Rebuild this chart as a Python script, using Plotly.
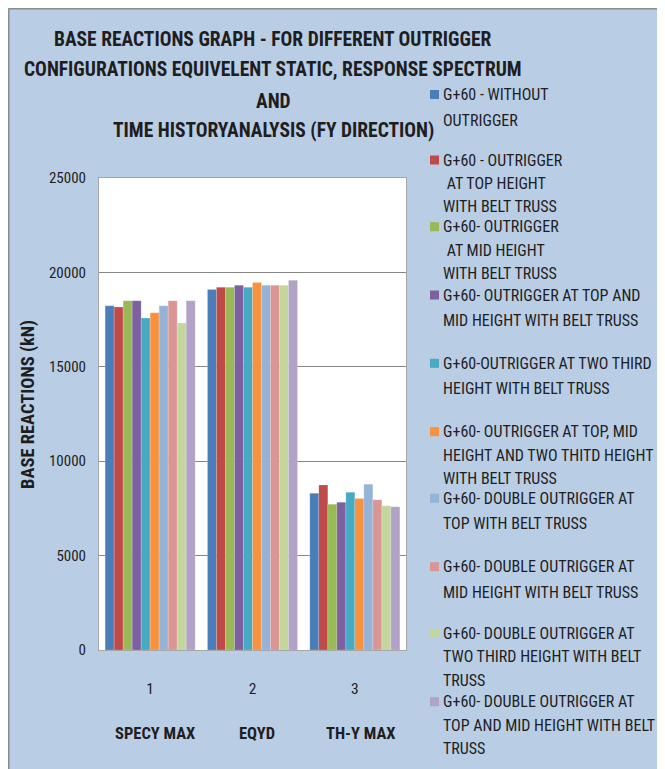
import plotly.graph_objects as go

categories = [1, 2, 3]
category_names = ["SPECY MAX", "EQYD", "TH-Y MAX"]

series_names = [
    ["G+60 - WITHOUT", "OUTRIGGER"],
    ["G+60 - OUTRIGGER", " AT TOP HEIGHT", "WITH BELT TRUSS"],
    ["G+60- OUTRIGGER", " AT MID HEIGHT", "WITH BELT TRUSS"],
    ["G+60- OUTRIGGER AT TOP AND", "MID HEIGHT WITH BELT TRUSS"],
    ["G+60-OUTRIGGER AT TWO THIRD", "HEIGHT WITH BELT TRUSS"],
    ["G+60- OUTRIGGER AT TOP, MID", "HEIGHT AND TWO THITD HEIGHT", "WITH BELT TRUSS"],
    ["G+60- DOUBLE OUTRIGGER AT", "TOP WITH BELT TRUSS"],
    ["G+60- DOUBLE OUTRIGGER AT", "MID HEIGHT WITH BELT TRUSS"],
    ["G+60- DOUBLE OUTRIGGER AT", "TWO THIRD HEIGHT WITH BELT", "TRUSS"],
    ["G+60- DOUBLE OUTRIGGER AT", "TOP AND MID HEIGHT WITH BELT", "TRUSS"],
]

without_outrigger = [18230, 19100, 8300]
top_belt = [18170, 19210, 8740]
mid_belt = [18500, 19210, 7720]
top_mid_belt = [18500, 19320, 7820]
two_third_belt = [17580, 19210, 8350]
top_mid_two_third_belt = [17860, 19470, 8030]
double_top = [18230, 19320, 8780]
double_mid = [18500, 19320, 7960]
double_two_third = [17320, 19320, 7640]
double_top_mid = [18500, 19580, 7590]

series_values = [without_outrigger, top_belt, mid_belt, top_mid_belt, two_third_belt,
                  top_mid_two_third_belt, double_top, double_mid, double_two_third, double_top_mid]

colors = ["#4A7EBB", "#BE4B48", "#98B954", "#7D60A0", "#46AAC5",
          "#F69240", "#95B3D7", "#D99694", "#C3D69B", "#B3A2C7"]

y_ticks = [0, 5000, 10000, 15000, 20000, 25000]

W, H = 680, 780
OFF = 8  # page body margin
# plot area in screenshot pixels
L, R, T, B = 99, 406, 178, 650
FONT = "Liberation Sans Narrow, Arial Narrow, Roboto Condensed, Liberation Sans, sans-serif"
TXT = "#1E1E1E"


def px(x):
    return (x - L) / (R - L)


def py(y):
    return (B - y) / (B - T)


fig = go.Figure()
for name, vals, col in zip(series_names, series_values, colors):
    fig.add_trace(go.Bar(
        x=categories, y=vals, name=" ".join(s.strip() for s in name),
        marker=dict(color=col, line=dict(color="rgba(255,255,255,0.35)", width=0.5)),
        showlegend=False,
    ))

annotations = []
shapes = []

# title
title_lines = ["BASE REACTIONS GRAPH - FOR DIFFERENT OUTRIGGER",
               "CONFIGURATIONS EQUIVELENT STATIC, RESPONSE SPECTRUM",
               "AND",
               "TIME HISTORYANALYSIS (FY DIRECTION)"]
title_y = [40, 70, 101, 131]
for t, yy in zip(title_lines, title_y):
    annotations.append(dict(text="<b>%s</b>" % t, x=px(273), y=py(yy), xref="paper", yref="paper",
                            xanchor="center", yanchor="middle", showarrow=False,
                            font=dict(family=FONT, size=19.5, color=TXT)))

# category names
for c, n, xc in zip(categories, category_names, [155, 257, 361]):
    annotations.append(dict(text="<b>%s</b>" % n, x=px(xc), y=py(733), xref="paper", yref="paper",
                            xanchor="center", yanchor="middle", showarrow=False,
                            font=dict(family=FONT, size=16.5, color=TXT)))

# y axis title
annotations.append(dict(text="<b>BASE REACTIONS (kN)</b>", x=px(28), y=py(405), xref="paper", yref="paper",
                        xanchor="center", yanchor="middle", showarrow=False, textangle=-90,
                        font=dict(family=FONT, size=18.5, color=TXT)))

# legend (manual)
entry_y = [94.5, 160, 226.7, 295, 363.3, 431.7, 498.3, 566.7, 633.3, 701.7]
for name, col, y0 in zip(series_names, colors, entry_y):
    shapes.append(dict(type="rect", xref="paper", yref="paper",
                       x0=px(430), x1=px(439), y0=py(y0 + 4.5), y1=py(y0 - 4.5),
                       fillcolor=col, line=dict(width=0)))
    step = 25.5 if len(name) == 2 else 23.5
    for i, line in enumerate(name):
        annotations.append(dict(text=line.replace(" ", "&nbsp;", 1) if line.startswith(" ") else line,
                                x=px(441), y=py(y0 + i * step), xref="paper", yref="paper",
                                xanchor="left", yanchor="middle", showarrow=False,
                                font=dict(family=FONT, size=16, color=TXT)))

# chart frame at the figure edge
shapes.append(dict(type="line", xref="paper", yref="paper", x0=px(8.5), x1=px(700), y0=py(8.5), y1=py(8.5),
                   line=dict(color="#8C8C8C", width=2)))
shapes.append(dict(type="line", xref="paper", yref="paper", x0=px(8.5), x1=px(8.5), y0=py(8.5), y1=py(800),
                   line=dict(color="#8C8C8C", width=2)))

fig.update_layout(
    width=W, height=H,
    margin=dict(l=L - OFF, r=W - (R - OFF), t=T - OFF, b=H - (B - OFF), pad=0),
    paper_bgcolor="#B9CDE5",
    plot_bgcolor="white",
    barmode="group",
    bargap=0.12,
    bargroupgap=0,
    annotations=annotations,
    shapes=shapes,
    font=dict(family=FONT, color=TXT),
)
fig.update_xaxes(
    type="linear", range=[0.5, 3.5], tickvals=categories, ticktext=[str(c) for c in categories],
    tickfont=dict(family=FONT, size=15.5, color=TXT), ticks="", ticklabelstandoff=24,
    showgrid=False, showline=True, linecolor="#A6A6A6", linewidth=1, mirror=True, zeroline=False,
)
fig.update_yaxes(
    range=[0, 25000], tickvals=y_ticks, ticktext=[str(v) for v in y_ticks],
    tickfont=dict(family=FONT, size=15, color=TXT), ticks="", ticklabelstandoff=9,
    showgrid=True, gridcolor="#868686", gridwidth=1,
    showline=True, linecolor="#A6A6A6", linewidth=1, mirror=True, zeroline=False,
)

fig.write_html("out.html")
